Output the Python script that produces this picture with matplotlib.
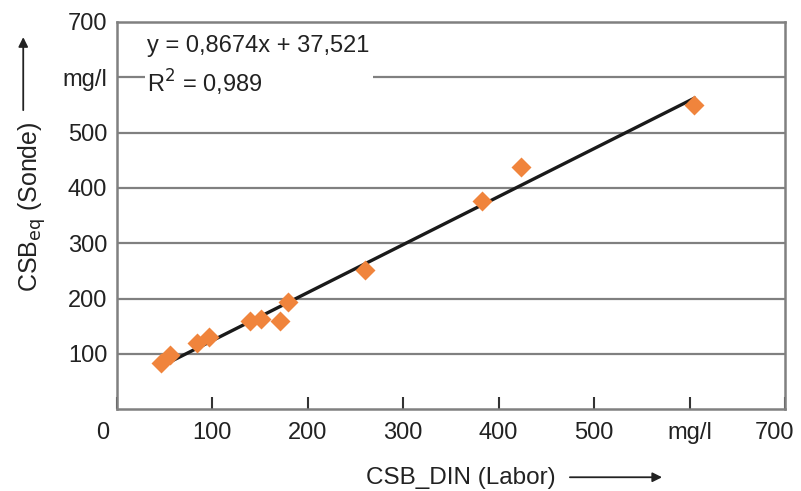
import numpy as np
import matplotlib.pyplot as plt
import matplotlib.transforms as mtransforms

plt.rcParams['font.family'] = ['Liberation Sans', 'DejaVu Sans']

# Messwerte: CSB_DIN (Labor) vs. CSB_eq (Sonde), mg/l
labor = [46, 56, 84, 96, 139, 151, 171, 179, 260, 382, 423, 605]
sonde = [83, 98, 120, 131, 159, 163, 159, 194, 251, 377, 438, 550]
slope, intercept = 0.8674, 37.521

xticks = [0, 100, 200, 300, 400, 500, 600, 700]
xlabels = ['0', '100', '200', '300', '400', '500', 'mg/l', '700']
yticks = [100, 200, 300, 400, 500, 600, 700]
ylabels = ['100', '200', '300', '400', '500', 'mg/l', '700']

fig = plt.figure(figsize=(8.01, 4.91), dpi=100)
ax = fig.add_axes([0.146, 0.1664, 0.834, 0.7888])

grey = '#808080'
ax.set_xlim(0, 700)
ax.set_ylim(0, 700)
for v in yticks[:-1]:
    ax.axhline(v, color=grey, lw=1.6, zorder=1)

xfit = np.array([min(labor), max(labor)])
ax.plot(xfit, slope * xfit + intercept, color='#1a1a1a', lw=2.4, zorder=3)
ax.plot(labor, sonde, 'D', color='#f0843c', ms=10, mec='none', zorder=4)

ax.set_xticks(xticks)
ax.set_xticklabels(xlabels)
ax.set_yticks(yticks)
ax.set_yticklabels(ylabels)
ax.tick_params(axis='x', direction='in', length=9, width=1.5, color='#333333',
               labelsize=17, pad=9, labelcolor='#222222')
ax.tick_params(axis='y', length=0, labelsize=17, pad=7, labelcolor='#222222')
# "0" sits left of the corner, "700" pulled in from the edge
xtl = ax.get_xticklabels()
for lab, dx in ((xtl[0], -14), (xtl[-1], -10)):
    lab.set_transform(lab.get_transform() +
                      mtransforms.ScaledTranslation(dx / 100, 0, fig.dpi_scale_trans))
for s in ax.spines.values():
    s.set_color(grey)
    s.set_linewidth(1.8)

ax.text(32, 620, 'y = 0,8674x + 37,521\nR$^2$ = 0,989', fontsize=17, color='#222222',
        va='center', ha='left', linespacing=1.45,
        bbox=dict(fc='white', ec='none', pad=2), zorder=5)

fig.text(0.04, 0.58, 'CSB$_{\\mathrm{eq}}$ (Sonde)', rotation=90, fontsize=18,
         ha='center', va='center', color='#222222')
fig.text(0.575, 0.027, 'CSB_DIN (Labor)', fontsize=17.5, ha='center', va='center',
         color='#222222')
fig.add_artist(plt.Annotation('', xy=(0.029, 0.93), xytext=(0.029, 0.77),
                              xycoords='figure fraction',
                              arrowprops=dict(arrowstyle='-|>', color='#222222', lw=1.3,
                                              mutation_scale=14)))
fig.add_artist(plt.Annotation('', xy=(0.83, 0.028), xytext=(0.708, 0.028),
                              xycoords='figure fraction',
                              arrowprops=dict(arrowstyle='-|>', color='#222222', lw=1.3,
                                              mutation_scale=14)))

fig.savefig('out.png', dpi=100)
